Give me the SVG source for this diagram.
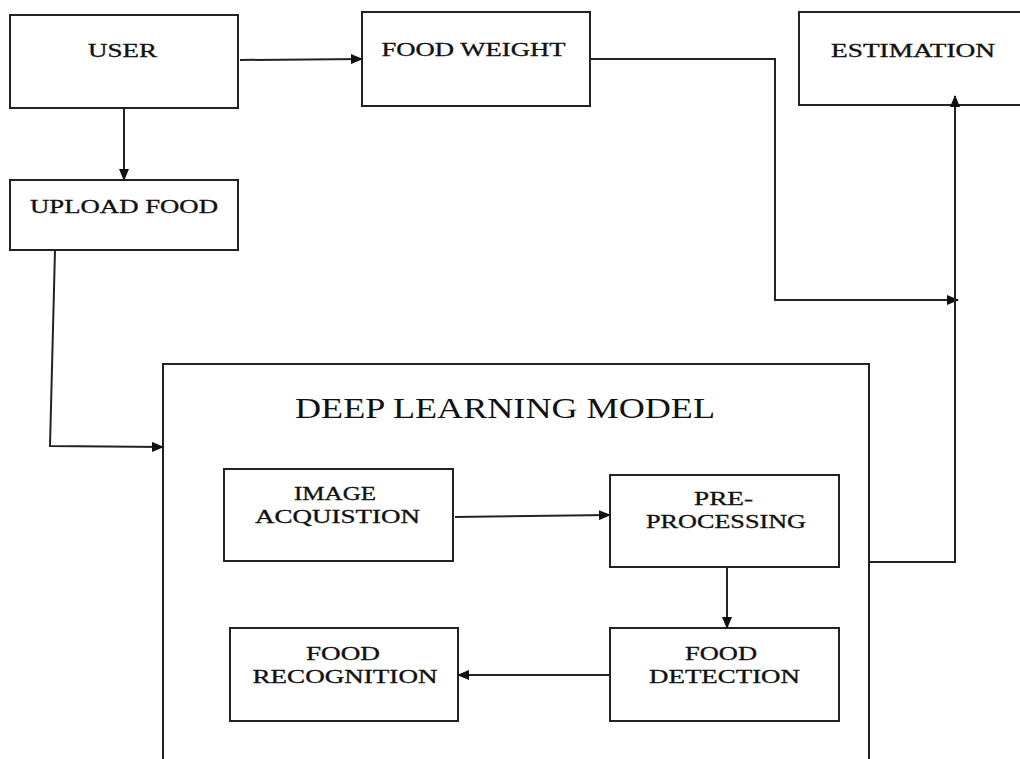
<svg xmlns="http://www.w3.org/2000/svg" width="1020" height="759" viewBox="0 0 1020 759">
<style>
.box{fill:#fff;stroke:#222;stroke-width:2}
.lbl{font-family:"Liberation Serif","Times New Roman",serif;font-size:18px;fill:#111;text-anchor:middle;stroke:#111;stroke-width:0.3}
.ttl{font-family:"Liberation Serif","Times New Roman",serif;font-size:30px;fill:#111;text-anchor:middle}
.con{fill:none;stroke:#222;stroke-width:2}
</style>
<defs>
<marker id="ah" markerUnits="userSpaceOnUse" markerWidth="12" markerHeight="10" refX="11" refY="5" orient="auto" viewBox="0 0 12 10">
<path d="M0,0 L12,5 L0,10 z" fill="#111"/>
</marker>
</defs>
<rect width="1020" height="759" fill="#fff"/>
<g id="dlm">
<rect class="box" x="163" y="364" width="706" height="420"/>
<text class="ttl" x="505" y="418" textLength="420" lengthAdjust="spacingAndGlyphs">DEEP LEARNING MODEL</text>
</g>
<g id="user">
<rect class="box" x="10" y="15" width="228" height="93"/>
<text class="lbl" x="122.5" y="57" textLength="69" lengthAdjust="spacingAndGlyphs">USER</text>
</g>
<g id="foodweight">
<rect class="box" x="362" y="12" width="228" height="94"/>
<text class="lbl" x="473.5" y="56" textLength="184" lengthAdjust="spacingAndGlyphs">FOOD WEIGHT</text>
</g>
<g id="estimation">
<rect class="box" x="799" y="12" width="240" height="93"/>
<text class="lbl" x="913" y="57" textLength="164" lengthAdjust="spacingAndGlyphs">ESTIMATION</text>
</g>
<g id="upload">
<rect class="box" x="10" y="180" width="228" height="70"/>
<text class="lbl" x="124" y="213" textLength="188" lengthAdjust="spacingAndGlyphs">UPLOAD FOOD</text>
</g>
<g id="imageacq">
<rect class="box" x="224" y="469" width="229" height="92"/>
<text class="lbl" x="335" y="500" textLength="82" lengthAdjust="spacingAndGlyphs">IMAGE</text>
<text class="lbl" x="337.5" y="523" textLength="165" lengthAdjust="spacingAndGlyphs">ACQUISTION</text>
</g>
<g id="preproc">
<rect class="box" x="610" y="475" width="229" height="92"/>
<text class="lbl" x="723.5" y="505" textLength="59" lengthAdjust="spacingAndGlyphs">PRE-</text>
<text class="lbl" x="726" y="528" textLength="160" lengthAdjust="spacingAndGlyphs">PROCESSING</text>
</g>
<g id="recognition">
<rect class="box" x="230" y="628" width="228" height="93"/>
<text class="lbl" x="343" y="660" textLength="74" lengthAdjust="spacingAndGlyphs">FOOD</text>
<text class="lbl" x="345" y="683" textLength="185" lengthAdjust="spacingAndGlyphs">RECOGNITION</text>
</g>
<g id="detection">
<rect class="box" x="610" y="628" width="229" height="93"/>
<text class="lbl" x="721" y="660" textLength="72" lengthAdjust="spacingAndGlyphs">FOOD</text>
<text class="lbl" x="724.5" y="683" textLength="151" lengthAdjust="spacingAndGlyphs">DETECTION</text>
</g>
<g id="connectors">
<path class="con" d="M240,60 L362,59" marker-end="url(#ah)"/>
<path class="con" d="M124,108 L124,180" marker-end="url(#ah)"/>
<path class="con" d="M590,59 H775 V300 H958" marker-end="url(#ah)"/>
<path class="con" d="M55,250 L50,446 L163,447" marker-end="url(#ah)"/>
<path class="con" d="M869,562 H955 V96" marker-end="url(#ah)"/>
<path class="con" d="M455,517 L610,515" marker-end="url(#ah)"/>
<path class="con" d="M727,567 V628" marker-end="url(#ah)"/>
<path class="con" d="M610,675 H458" marker-end="url(#ah)"/>
</g>
</svg>
